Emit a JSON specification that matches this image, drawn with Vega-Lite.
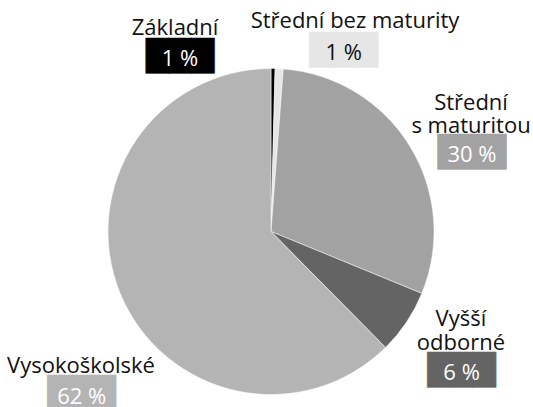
{
  "$schema": "https://vega.github.io/schema/vega-lite/v6.json",
  "autosize": {"type": "none"},
  "width": 524,
  "height": 351,
  "padding": {"left": 9, "top": 56, "right": 0, "bottom": 0},
  "background": "white",
  "config": {"view": {"stroke": null}, "text": {"font": "Open Sans", "fontSize": 22}},
  "data": {
    "values": [
      {"kategorie": "Základní", "podil": 0.4, "poradi": 1, "popisek": "Základní", "procenta": "1 %"},
      {"kategorie": "Střední bez maturity", "podil": 0.8, "poradi": 2, "popisek": "Střední bez maturity", "procenta": "1 %"},
      {"kategorie": "Střední s maturitou", "podil": 30.0, "poradi": 3, "popisek": "Střední\ns maturitou", "procenta": "30 %"},
      {"kategorie": "Vyšší odborné", "podil": 6.4, "poradi": 4, "popisek": "Vyšší\nodborné", "procenta": "6 %"},
      {"kategorie": "Vysokoškolské", "podil": 62.4, "poradi": 5, "popisek": "Vysokoškolské", "procenta": "62 %"}
    ]
  },
  "encoding": {
    "theta": {"field": "podil", "type": "quantitative", "stack": true},
    "order": {"field": "poradi", "type": "quantitative"},
    "detail": {"field": "kategorie", "type": "nominal"}
  },
  "layer": [
    {
      "mark": {"type": "arc", "radius": 163, "stroke": "white", "strokeWidth": 0.5},
      "encoding": {
        "color": {
          "field": "kategorie", "type": "nominal", "legend": null,
          "scale": {
            "domain": ["Základní", "Střední bez maturity", "Střední s maturitou", "Vyšší odborné", "Vysokoškolské"],
            "range": ["#000000", "#e6e6e6", "#a2a2a2", "#646464", "#b4b4b4"]
          }
        }
      }
    },
    {"mark": {"type": "text", "radius": 163, "align": "center", "baseline": "alphabetic", "fill": "#111111", "dx": -98, "dy": -33.5},
     "encoding": {"text": {"condition": {"test": "datum.kategorie === 'Základní'", "field": "popisek", "type": "nominal"}, "value": ""}}},
    {"mark": {"type": "text", "radius": 163, "align": "center", "baseline": "alphabetic", "font": "DejaVu Sans", "fontSize": 29.6, "fill": "#000000", "stroke": "#000000", "strokeWidth": 0.5, "strokeJoin": "miter", "dx": -93, "dy": -2.4},
     "encoding": {"text": {"condition": {"test": "datum.kategorie === 'Základní'", "value": "███"}, "value": ""}}},
    {"mark": {"type": "text", "radius": 163, "align": "center", "baseline": "alphabetic", "fill": "#ffffff", "dx": -93, "dy": -2.4},
     "encoding": {"text": {"condition": {"test": "datum.kategorie === 'Základní'", "field": "procenta", "type": "nominal"}, "value": ""}}},

    {"mark": {"type": "text", "radius": 163, "align": "center", "baseline": "alphabetic", "fill": "#111111", "dx": 75.8, "dy": -40.4},
     "encoding": {"text": {"condition": {"test": "datum.kategorie === 'Střední bez maturity'", "field": "popisek", "type": "nominal"}, "value": ""}}},
    {"mark": {"type": "text", "radius": 163, "align": "center", "baseline": "alphabetic", "font": "DejaVu Sans", "fontSize": 29.6, "fill": "#e6e6e6", "stroke": "#e6e6e6", "strokeWidth": 0.5, "strokeJoin": "miter", "dx": 64.5, "dy": -9.2},
     "encoding": {"text": {"condition": {"test": "datum.kategorie === 'Střední bez maturity'", "value": "███"}, "value": ""}}},
    {"mark": {"type": "text", "radius": 163, "align": "center", "baseline": "alphabetic", "fill": "#111111", "dx": 64.5, "dy": -9.2},
     "encoding": {"text": {"condition": {"test": "datum.kategorie === 'Střední bez maturity'", "field": "procenta", "type": "nominal"}, "value": ""}}},

    {"mark": {"type": "text", "radius": 163, "align": "center", "baseline": "alphabetic", "fill": "#111111", "lineBreak": "\n", "lineHeight": 23.3, "dx": 61.3, "dy": -35.8},
     "encoding": {"text": {"condition": {"test": "datum.kategorie === 'Střední s maturitou'", "field": "popisek", "type": "nominal"}, "value": ""}}},
    {"mark": {"type": "text", "radius": 163, "align": "center", "baseline": "alphabetic", "font": "DejaVu Sans", "fontSize": 29.6, "fill": "#a2a2a2", "stroke": "#a2a2a2", "strokeWidth": 0.5, "strokeJoin": "miter", "dx": 62.3, "dy": 15.8},
     "encoding": {"text": {"condition": {"test": "datum.kategorie === 'Střední s maturitou'", "value": "███"}, "value": ""}}},
    {"mark": {"type": "text", "radius": 163, "align": "center", "baseline": "alphabetic", "fill": "#ffffff", "dx": 62.3, "dy": 15.8},
     "encoding": {"text": {"condition": {"test": "datum.kategorie === 'Střední s maturitou'", "field": "procenta", "type": "nominal"}, "value": ""}}},

    {"mark": {"type": "text", "radius": 163, "align": "center", "baseline": "alphabetic", "fill": "#111111", "lineBreak": "\n", "lineHeight": 24, "dx": 54.5, "dy": 3.8},
     "encoding": {"text": {"condition": {"test": "datum.kategorie === 'Vyšší odborné'", "field": "popisek", "type": "nominal"}, "value": ""}}},
    {"mark": {"type": "text", "radius": 163, "align": "center", "baseline": "alphabetic", "font": "DejaVu Sans", "fontSize": 29.6, "fill": "#646464", "stroke": "#646464", "strokeWidth": 0.5, "strokeJoin": "miter", "dx": 55.2, "dy": 57.9},
     "encoding": {"text": {"condition": {"test": "datum.kategorie === 'Vyšší odborné'", "value": "███"}, "value": ""}}},
    {"mark": {"type": "text", "radius": 163, "align": "center", "baseline": "alphabetic", "fill": "#ffffff", "dx": 55.2, "dy": 57.9},
     "encoding": {"text": {"condition": {"test": "datum.kategorie === 'Vyšší odborné'", "field": "procenta", "type": "nominal"}, "value": ""}}},

    {"mark": {"type": "text", "radius": 163, "align": "center", "baseline": "alphabetic", "fill": "#111111", "dx": -39.2, "dy": 79.6},
     "encoding": {"text": {"condition": {"test": "datum.kategorie === 'Vysokoškolské'", "field": "popisek", "type": "nominal"}, "value": ""}}},
    {"mark": {"type": "text", "radius": 163, "align": "center", "baseline": "alphabetic", "font": "DejaVu Sans", "fontSize": 29.6, "fill": "#b4b4b4", "stroke": "#b4b4b4", "strokeWidth": 0.5, "strokeJoin": "miter", "dx": -38.5, "dy": 109.7},
     "encoding": {"text": {"condition": {"test": "datum.kategorie === 'Vysokoškolské'", "value": "███"}, "value": ""}}},
    {"mark": {"type": "text", "radius": 163, "align": "center", "baseline": "alphabetic", "fill": "#ffffff", "dx": -38.5, "dy": 110.3},
     "encoding": {"text": {"condition": {"test": "datum.kategorie === 'Vysokoškolské'", "field": "procenta", "type": "nominal"}, "value": ""}}}
  ]
}
